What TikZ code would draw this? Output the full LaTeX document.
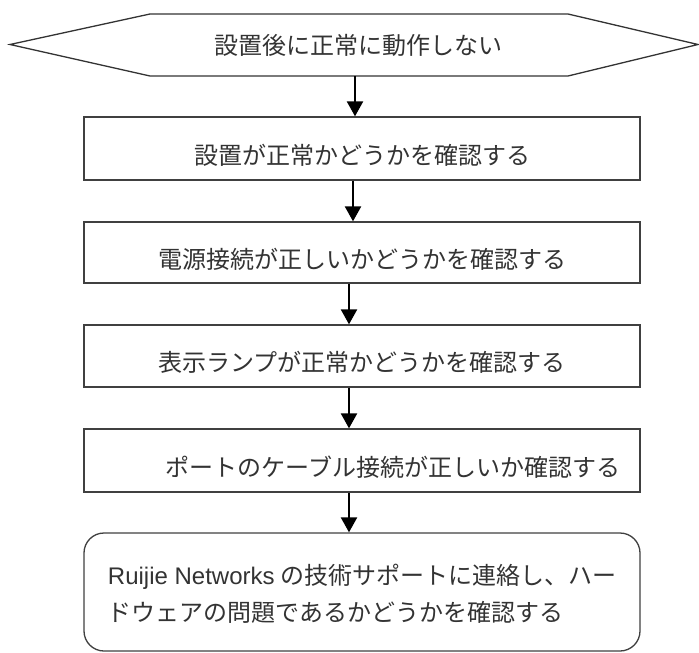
\documentclass[tikz,border=0pt]{standalone}
\usepackage{fontspec}
\setmainfont{Noto Sans CJK JP}
\newfontfamily\lat{Liberation Sans}
\usetikzlibrary{arrows.meta}
\newcommand{\lowtxt}[2]{\raisebox{-#1}[\height][\depth]{#2}}
\begin{document}
\begin{tikzpicture}[x=1pt,y=-1pt,
  every node/.style={text=black!80, font=\fontsize{24}{37}\selectfont},
  stepbox/.style={draw=black!75, line width=1.3pt, minimum width=556pt, inner sep=0pt, fill=white},
  arr/.style={draw=black, line width=2.3pt, -{Triangle[length=15pt,width=16pt]}}
]
\useasboundingbox (0,0) rectangle (699,653);
% hexagon
\draw[draw=black!80, line width=1.3pt] (10,44.5) -- (150,14) -- (568,14) -- (698,44.5) -- (568,76) -- (150,76) -- cycle;
\node[minimum width=418pt, minimum height=62pt, inner sep=0pt] (hex) at (355,45) {\hspace*{7pt}設置後に正常に動作しない};
\node[stepbox, minimum height=63pt] (b1) at (362,148.5) {\lowtxt{7pt}{設置が正常かどうかを確認する}};
\node[stepbox, minimum height=61pt] (b2) at (362,252.5) {\lowtxt{7pt}{電源接続が正しいかどうかを確認する}};
\node[stepbox, minimum height=62pt] (b3) at (362,356) {\lowtxt{6pt}{表示ランプが正常かどうかを確認する}};
\node[stepbox, minimum height=63pt] (b4) at (362,460.5) {\lowtxt{7pt}{\hspace*{62pt}ポートのケーブル接続が正しいか確認する}};
\node[stepbox, minimum height=118pt, rounded corners=20pt, align=left] (b5) at (362,592) {\lowtxt{4pt}{\begin{tabular}{@{}l@{}}{\lat Ruijie Networks} の技術サポートに連絡し、ハー\\[0pt]ドウェアの問題であるかどうかを確認する\end{tabular}}};
\draw[arr] (hex.south) -- (hex.south |- b1.north);
\draw[arr] ([xshift=-9pt]b1.south) -- ([xshift=-9pt]b2.north);
\draw[arr] ([xshift=-13pt]b2.south) -- ([xshift=-13pt]b3.north);
\draw[arr] ([xshift=-13pt]b3.south) -- ([xshift=-13pt]b4.north);
\draw[arr] ([xshift=-13pt]b4.south) -- ([xshift=-13pt]b5.north);
\end{tikzpicture}
\end{document}
